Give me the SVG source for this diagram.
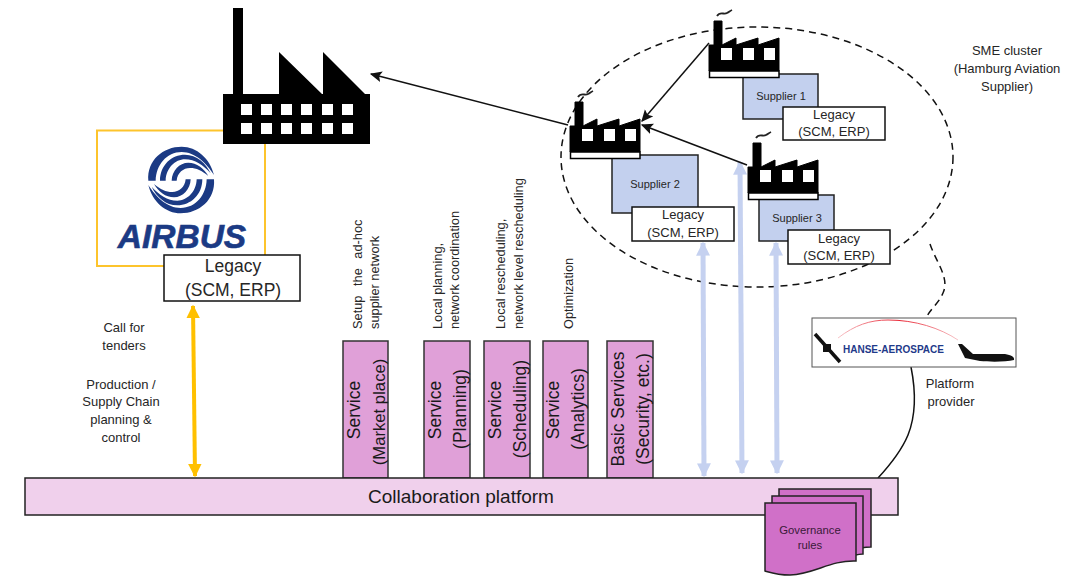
<svg xmlns="http://www.w3.org/2000/svg" width="1076" height="576" viewBox="0 0 1076 576">
<style>
text{font-family:"Liberation Sans",Arial,sans-serif;fill:#262626}
.c{text-anchor:middle}
.s{font-size:12.800px}
.t{font-size:11px}
.l{font-size:13px}
.big{font-size:17.500px;fill:#1a1a1a}
.box{stroke:#222;stroke-width:1.500}
.leg{fill:#fff;stroke:#111;stroke-width:1.500}
.sup{fill:#c3d0ee;stroke:#222;stroke-width:1.500}
.svc{fill:#e0a0d8;stroke:#333;stroke-width:1.500}
.doc{fill:#d070c8;stroke:#222;stroke-width:1.500}
.lb{stroke:#c5d1f0;stroke-width:5;fill:none;marker-start:url(#hb);marker-end:url(#hb)}
.ar{stroke:#111;stroke-width:1.500;fill:none;marker-end:url(#hk)}
</style>
<defs>
<marker id="hb" viewBox="0 0 10 10" refX="9" refY="5" markerWidth="2.800" markerHeight="2.800" orient="auto-start-reverse"><path d="M0,0L10,5L0,10Z" fill="#c5d1f0"/></marker>
<marker id="hy" viewBox="0 0 10 10" refX="9" refY="5" markerWidth="3.400" markerHeight="3.400" orient="auto-start-reverse"><path d="M0,0L10,5L0,10Z" fill="#ffc000"/></marker>
<marker id="hk" viewBox="0 0 10 10" refX="9" refY="5" markerWidth="8" markerHeight="8" orient="auto"><path d="M0,0.500L10,5L0,9.500L2,5Z" fill="#111"/></marker>
<linearGradient id="red" x1="0" x2="1" y1="0" y2="0"><stop offset="0" stop-color="#f7c4c8"/><stop offset=".5" stop-color="#e8202f"/><stop offset="1" stop-color="#f7c4c8"/></linearGradient>
<symbol id="sf" overflow="visible" viewBox="0 0 71 58" width="71" height="58">
<path d="M5,0H13V24L27,17V24L49,17V24L70,17V50H0V24H5Z" fill="#000" stroke="#000" stroke-width="1"/>
<rect x="0.500" y="50" width="69.500" height="6.500" fill="#fff" stroke="#000" stroke-width="1.500"/>
<rect x="12" y="27" width="11" height="12" fill="#fff"/><rect x="34" y="27" width="11" height="12" fill="#fff"/><rect x="55" y="27" width="11" height="12" fill="#fff"/>
<path d="M8,-5C11,-10 15,-6 18,-8C20,-9 21,-10 23,-11" fill="none" stroke="#222" stroke-width="1.800"/>
</symbol>
<g id="band"><path d="M25,122C20,60 70,20 125,20C170,20 210,55 222,105C200,70 165,36 125,36C80,36 48,75 47,122Z"/><path d="M60,122C60,75 95,44 135,44C170,44 198,70 212,100C190,76 165,58 135,58C105,58 78,85 77,122Z"/><path d="M95,122C96,92 118,68 145,68C170,68 192,85 205,108C185,92 170,84 150,84C130,84 112,98 110,122Z"/></g>
</defs>
<g id="airbus">
<rect x="97" y="130.500" width="168" height="135.500" fill="#fff" stroke="#fdc42c" stroke-width="2"/>
<g fill="#1b3a84" transform="translate(140,140) scale(.3333)"><use href="#band"/><use href="#band" transform="rotate(180 123.500 120)"/></g>
<text x="182" y="248" class="c" style="font-size:33.500px;font-weight:bold;font-style:italic;fill:#1b3a84;stroke:#1b3a84;stroke-width:.6">AIRBUS</text>
</g>
<g id="oem-factory">
<path d="M233,8H243V94H279V52L322,94H323V52L365,94H370V144H223V94H233Z" fill="#000"/>
<g fill="#fff">
<rect x="241" y="104" width="11" height="11"/><rect x="261" y="104" width="11" height="11"/><rect x="281" y="104" width="11" height="11"/><rect x="301" y="104" width="11" height="11"/><rect x="322" y="104" width="11" height="11"/><rect x="342" y="104" width="11" height="11"/>
<rect x="241" y="123" width="11" height="11"/><rect x="261" y="123" width="11" height="11"/><rect x="281" y="123" width="11" height="11"/><rect x="301" y="123" width="11" height="11"/><rect x="322" y="123" width="11" height="11"/><rect x="342" y="123" width="11" height="11"/>
</g>
</g>
<g id="oem-legacy">
<rect x="164" y="255" width="136" height="46" class="leg"/>
<text x="233" y="272" class="c" style="font-size:17.500px">Legacy</text>
<text x="233" y="296" class="c" style="font-size:17.500px">(SCM, ERP)</text>
</g>
<g id="sme-cluster">
<ellipse cx="757" cy="157" rx="196" ry="130" fill="none" stroke="#111" stroke-width="1.500" stroke-dasharray="7 5"/>
<path d="M930,244C936,262 950,278 943,293C939,303 931,308 926,318" fill="none" stroke="#111" stroke-width="1.500" stroke-dasharray="7 5"/>
<text x="1007" y="55" class="c l">SME cluster</text>
<text x="1007" y="73" class="c l">(Hamburg Aviation</text>
<text x="1007" y="91" class="c l">Supplier)</text>
</g>
<g id="connectors">
<path d="M193,306L195,476" fill="none" stroke="#ffc000" stroke-width="4" marker-start="url(#hy)" marker-end="url(#hy)"/>
<path d="M703,243L704,476" class="lb"/>
<path d="M740,162L742,473" class="lb"/>
<path d="M776,243L777,473" class="lb"/>
<path d="M568,125L371,74" class="ar"/>
<path d="M709,43L642,121" class="ar"/>
<path d="M747,165L642,125" class="ar"/>
<path d="M911,367C916,392 916,415 908,435C901,452 890,465 878,478" fill="none" stroke="#111" stroke-width="1.500"/>
</g>
<g id="supplier-1">
<rect x="743" y="74" width="75" height="45" class="sup"/>
<text x="781" y="100" class="c t">Supplier 1</text>
<rect x="783" y="107" width="102" height="33" class="leg"/>
<text x="834" y="119" class="c l">Legacy</text><text x="834" y="136" class="c l">(SCM, ERP)</text>
<use href="#sf" x="709" y="21"/>
</g>
<g id="supplier-2">
<rect x="612" y="155" width="86" height="58" class="sup"/>
<text x="655" y="188" class="c t">Supplier 2</text>
<rect x="632" y="207" width="102" height="34" class="leg"/>
<text x="683" y="219" class="c l">Legacy</text><text x="683" y="237" class="c l">(SCM, ERP)</text>
<use href="#sf" x="570" y="102"/>
</g>
<g id="supplier-3">
<rect x="759" y="195" width="75" height="46" class="sup"/>
<text x="797" y="222" class="c t">Supplier 3</text>
<rect x="788" y="230" width="102" height="34" class="leg"/>
<text x="839" y="243" class="c l">Legacy</text><text x="839" y="260" class="c l">(SCM, ERP)</text>
<use href="#sf" x="748" y="143"/>
</g>
<g id="left-labels">
<text x="124" y="332" class="c l">Call for</text><text x="124" y="350" class="c l">tenders</text>
<text x="121" y="389" class="c l">Production /</text><text x="121" y="406" class="c l">Supply Chain</text><text x="121" y="424" class="c l">planning &amp;</text><text x="121" y="442" class="c l">control</text>
</g>
<g id="service-market">
<rect x="343" y="341" width="45" height="137" class="svc"/>
<text transform="translate(360,410) rotate(-90)" class="c big">Service</text>
<text transform="translate(385,412) rotate(-90)" class="c big" style="font-size:16.700px">(Market place)</text>
<text transform="translate(362,329) rotate(-90)" class="s" style="word-spacing:6px">Setup the ad-hoc</text>
<text transform="translate(379,329) rotate(-90)" class="s">supplier network</text>
</g>
<g id="service-planning">
<rect x="424" y="341" width="46" height="137" class="svc"/>
<text transform="translate(441,410) rotate(-90)" class="c big">Service</text>
<text transform="translate(466,409) rotate(-90)" class="c big">(Planning)</text>
<text transform="translate(442,329) rotate(-90)" class="s">Local planning,</text>
<text transform="translate(459,329) rotate(-90)" class="s">network coordination</text>
</g>
<g id="service-scheduling">
<rect x="484" y="341" width="46" height="137" class="svc"/>
<text transform="translate(501,410) rotate(-90)" class="c big">Service</text>
<text transform="translate(526,409) rotate(-90)" class="c big">(Scheduling)</text>
<text transform="translate(505,329) rotate(-90)" class="s">Local rescheduling,</text>
<text transform="translate(523,329) rotate(-90)" class="s">network level rescheduling</text>
</g>
<g id="service-analytics">
<rect x="543" y="341" width="45" height="137" class="svc"/>
<text transform="translate(559,410) rotate(-90)" class="c big">Service</text>
<text transform="translate(584,409) rotate(-90)" class="c big">(Analytics)</text>
<text transform="translate(573,329) rotate(-90)" class="s">Optimization</text>
</g>
<g id="service-basic">
<rect x="607" y="341" width="46" height="137" class="svc"/>
<text transform="translate(624,409) rotate(-90)" class="c big">Basic Services</text>
<text transform="translate(649,409) rotate(-90)" class="c big">(Security, etc.)</text>
</g>
<g id="platform">
<rect x="25" y="478" width="873" height="37" fill="#f0d0ec" class="box"/>
<text x="461" y="503" class="c" style="font-size:19px;fill:#1a1a1a">Collaboration platform</text>
</g>
<g id="hanse">
<rect x="812" y="318" width="204" height="49" fill="#fff" stroke="#555" stroke-width="1"/>
<path d="M838,338C855,325 870,320 888,320C915,320 940,328 958,340" fill="none" stroke="url(#red)" stroke-width="1"/>
<path d="M815,334L840,362" stroke="#111" stroke-width="3.500" fill="none"/>
<rect x="823" y="344" width="8" height="8" fill="#111"/>
<text x="843" y="353" style="font-size:10px;font-weight:bold;fill:#1f3a8a">HANSE-AEROSPACE</text>
<path d="M958,344H962L973,354L1005,354C1011,355 1015,357 1014,360C1006,362 990,362 980,361L965,358Z" fill="#111"/>
<text x="950" y="388" class="c l">Platform</text><text x="951" y="406" class="c l">provider</text>
</g>
<g id="governance">
<path d="M779,489H871V547C850,547 830,558 800,555H779Z" class="doc"/>
<path d="M772,496H863V554C845,555 825,565 800,562H772Z" class="doc"/>
<path d="M765,503H856V561C830,560 815,574 790,575C778,575 772,573 765,571Z" class="doc"/>
<text x="810" y="534" class="c" style="font-size:11.300px;fill:#3a1a38">Governance</text>
<text x="810" y="549" class="c" style="font-size:11.300px;fill:#3a1a38">rules</text>
</g>
</svg>
